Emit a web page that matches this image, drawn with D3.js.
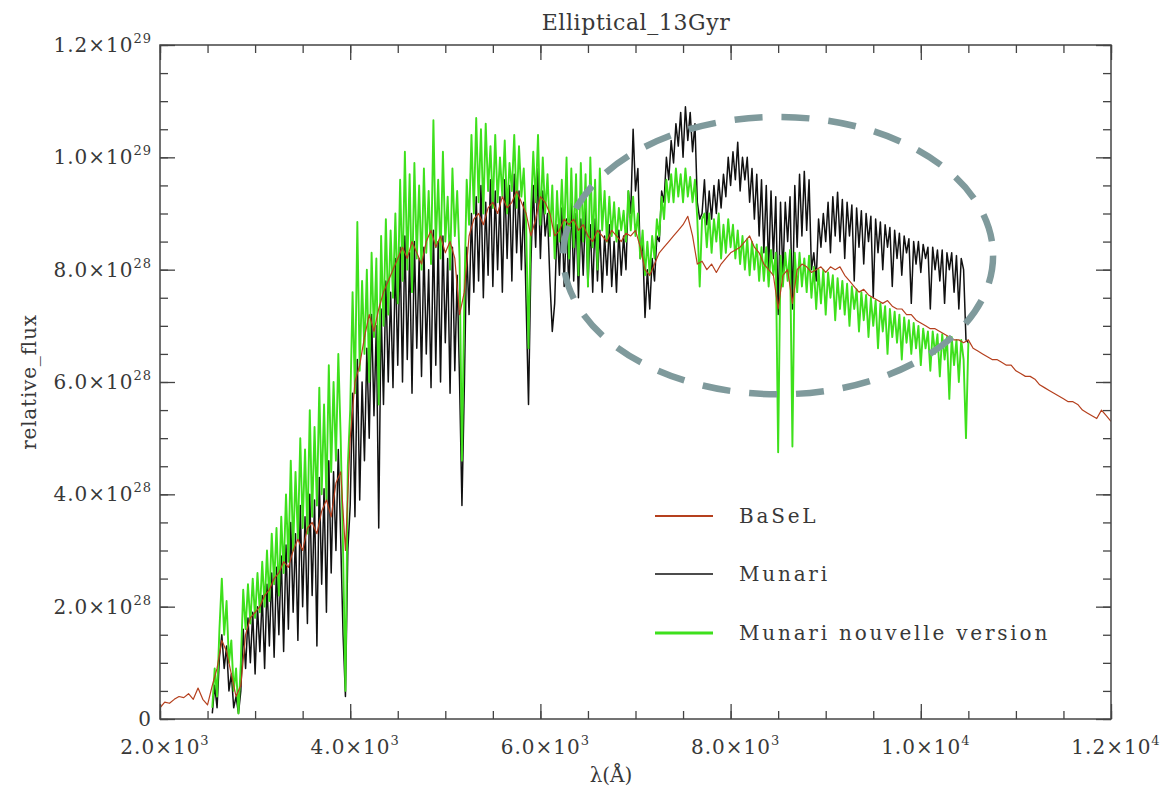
<!DOCTYPE html>
<html>
<head>
<meta charset="utf-8">
<script src="https://cdn.jsdelivr.net/npm/d3@7"></script>
<style>
  body { margin: 0; background: #fff; }
  svg text { font-family: "DejaVu Serif", serif; fill: #383838; }
</style>
</head>
<body>
<svg id="chart" width="1168" height="789"></svg>
<script>
// ---- Spectra (flux in units of 1e28) ----

// BaSeL library: 2000-12000 Å, every 50 Å
const BASEL_START = 2000, BASEL_STEP = 50;
const baselFlux = [
  0.20, 0.30, 0.28, 0.35, 0.40, 0.38, 0.45, 0.35, 0.55, 0.35,
  0.25, 0.60, 0.90, 1.40, 1.20, 0.80, 0.40, 0.60, 1.50, 1.80,
  1.90, 2.00, 2.20, 2.30, 2.50, 2.60, 2.80, 2.70, 3.00, 3.20,
  3.00, 3.40, 3.50, 3.30, 3.70, 3.90, 3.60, 4.20, 4.40, 3.00,
  5.00, 6.00, 6.30, 6.80, 7.20, 6.90, 7.30, 7.60, 7.80, 8.00,
  8.20, 8.40, 8.20, 8.50, 8.30, 8.10, 8.50, 8.70, 8.40, 8.60,
  8.30, 8.50, 8.20, 7.20, 7.60, 8.60, 8.90, 9.00, 8.80, 9.10,
  9.20, 9.00, 9.30, 9.10, 9.20, 9.40, 9.20, 9.00, 8.60, 8.90,
  9.30, 9.20, 9.00, 8.60, 8.70, 8.90, 8.80, 8.90, 8.70, 8.80,
  8.60, 8.50, 8.70, 8.60, 8.50, 8.70, 8.60, 8.50, 8.65, 8.60,
  8.70, 8.40, 8.00, 7.90, 8.10, 8.30, 8.40, 8.50, 8.60, 8.70,
  8.80, 8.95, 8.60, 8.10, 8.15, 8.00, 8.10, 7.95, 8.10, 8.20,
  8.30, 8.35, 8.40, 8.50, 8.60, 8.40, 8.30, 8.10, 8.00, 7.90,
  7.30, 7.90, 8.00, 7.40, 8.00, 8.10, 8.05, 7.95, 8.00, 8.05,
  7.95, 8.05, 8.00, 8.05, 7.90, 7.80, 7.70, 7.60, 7.65, 7.55,
  7.50, 7.45, 7.40, 7.45, 7.35, 7.30, 7.30, 7.20, 7.20, 7.10,
  7.05, 7.00, 6.95, 6.95, 6.90, 6.85, 6.80, 6.75, 6.75, 6.70,
  6.75, 6.60, 6.55, 6.50, 6.45, 6.40, 6.40, 6.35, 6.30, 6.30,
  6.20, 6.15, 6.10, 6.10, 6.05, 5.95, 5.90, 5.85, 5.80, 5.75,
  5.70, 5.65, 5.65, 5.60, 5.50, 5.45, 5.40, 5.35, 5.50, 5.40,
  5.30
];

// Munari library (original and new version): 2550-10500 Å, every 25 Å
const MUNARI_START = 2550, MUNARI_STEP = 25;
const munariFlux = [
  0.1, 0.6, 0.2, 1.1, 1.5, 0.9, 1.3, 0.5,
  0.8, 0.2, 0.4, 0.1, 0.5, 1.6, 0.9, 1.8,
  1.0, 1.9, 0.8, 2.0, 1.2, 2.2, 0.9, 2.4,
  1.3, 2.6, 1.1, 2.7, 1.5, 2.9, 1.2, 3.1,
  1.6, 3.5, 1.9, 3.3, 1.4, 3.8, 2.0, 3.6,
  1.7, 4.0, 2.2, 3.9, 1.3, 4.3, 2.4, 4.1,
  1.9, 4.6, 2.6, 4.4, 3.0, 4.8, 3.2, 1.5,
  0.4, 3.0, 3.8, 5.8, 3.6, 6.4, 3.9, 6.0,
  4.6, 6.6, 5.0, 7.2, 5.4, 7.0, 3.4, 7.3,
  5.6, 7.8, 6.0, 7.6, 5.9, 8.2, 6.3, 8.4,
  6.0, 8.6, 6.4, 8.3, 5.8, 8.5, 6.6, 8.2,
  6.1, 8.4, 6.5, 8.0, 5.9, 8.7, 6.3, 8.5,
  6.0, 8.6, 6.7, 8.2, 5.8, 8.4, 6.2, 7.9,
  6.0, 3.8, 5.9, 8.4, 7.2, 9.0, 7.6, 9.3,
  7.8, 9.5, 7.5, 9.2, 7.9, 9.6, 7.7, 9.4,
  8.0, 9.3, 7.6, 9.6, 8.2, 9.5, 7.8, 9.7,
  8.3, 9.4, 8.0, 9.2, 7.4, 5.6, 8.1, 9.5,
  8.4, 9.8, 8.2, 9.4, 8.6, 9.0, 7.8, 6.9,
  7.4, 8.8, 7.9, 9.1, 7.7, 8.9, 7.6, 9.2,
  7.8, 9.0, 7.5, 8.9, 7.9, 9.1, 7.7, 8.8,
  7.6, 8.9, 7.8, 8.7, 7.6, 8.6, 7.9, 8.8,
  7.7, 8.5, 7.6, 8.7, 7.9, 8.6, 8.0, 9.4,
  9.0, 10.5, 9.4, 9.8, 8.2, 8.5, 7.15, 8.0,
  7.3, 8.2, 7.8, 8.6, 8.5, 9.4, 9.2, 10.0,
  9.6, 10.3, 9.9, 10.6, 10.2, 10.8, 10.0, 10.9,
  10.3, 10.8, 10.1, 10.6, 9.2, 8.9, 9.0, 9.6,
  8.8, 9.4, 8.9, 9.5, 9.0, 9.6, 9.1, 9.7,
  9.3, 10.0, 9.5, 10.1, 9.6, 10.27, 9.4, 10.0,
  9.6, 10.0, 9.2, 9.8, 8.9, 9.7, 8.6, 9.6,
  8.3, 9.5, 8.0, 9.4, 8.2, 9.3, 7.2, 9.2,
  7.9, 9.2, 8.5, 9.3, 7.3, 9.5, 8.4, 9.7,
  8.6, 9.75, 8.7, 9.6, 8.0, 8.3, 7.8, 8.9,
  8.4, 9.0, 8.5, 9.2, 8.3, 9.3, 8.6, 9.38,
  8.5, 9.25, 8.2, 9.2, 8.6, 9.15, 7.8, 9.1,
  8.4, 9.05, 8.1, 9.0, 8.5, 8.95, 7.5, 8.9,
  8.3, 8.85, 8.0, 8.8, 8.4, 8.75, 7.7, 8.7,
  8.2, 8.65, 7.9, 8.6, 8.3, 8.55, 7.4, 8.5,
  8.1, 8.5, 7.95, 8.45, 8.2, 8.4, 7.3, 8.4,
  8.0, 8.35, 7.8, 8.35, 7.4, 8.3, 8.0, 8.3,
  7.6, 8.25, 7.3, 8.2, 8.0, 6.75, 6.7
];
const munariNewFlux = [
  0.2, 0.9, 0.4, 1.6, 2.5, 1.5, 2.1, 1.0,
  1.4, 0.5, 0.9, 0.1, 1.0, 2.3, 1.6, 2.4,
  1.7, 2.5, 1.8, 2.6, 1.9, 2.8, 2.0, 3.0,
  2.1, 3.3, 2.4, 3.4, 2.2, 3.6, 2.6, 4.0,
  2.8, 4.6, 3.0, 4.4, 3.2, 5.0, 3.4, 4.8,
  3.3, 5.5, 3.6, 5.2, 3.8, 5.9, 4.0, 5.6,
  3.9, 6.3, 4.4, 6.0, 4.6, 6.5, 5.0, 3.0,
  0.5, 4.5, 5.5, 7.6, 5.8, 8.85, 6.2, 7.8,
  6.5, 8.0, 6.0, 8.3, 6.8, 8.2, 5.6, 8.6,
  7.0, 8.9, 7.2, 8.7, 7.5, 9.0, 7.4, 9.6,
  7.8, 10.1, 8.0, 9.7, 7.6, 9.9, 8.2, 9.5,
  8.0, 9.8, 8.3, 9.4, 8.1, 10.66, 8.4, 9.6,
  8.2, 10.1, 8.5, 9.3, 8.0, 9.8, 8.6, 9.4,
  8.2, 4.6, 7.5, 9.6, 8.8, 10.4, 9.0, 10.7,
  9.2, 10.5, 9.0, 10.6, 9.4, 10.2, 9.1, 10.4,
  9.2, 10.0, 9.3, 10.3, 9.0, 9.9, 9.4, 10.4,
  9.1, 10.2, 9.3, 9.8, 8.8, 6.6, 9.0, 10.1,
  9.2, 10.4, 8.8, 10.0, 9.0, 9.7, 8.6, 9.5,
  8.2, 9.4, 8.5, 9.6, 8.6, 10.0, 8.2, 9.8,
  8.4, 9.7, 7.9, 9.9, 8.5, 9.7, 7.7, 10.0,
  8.4, 9.6, 8.0, 9.8, 8.7, 9.4, 8.5, 9.3,
  8.6, 9.2, 8.5, 9.1, 8.7, 9.05, 8.5, 9.4,
  8.7, 9.3, 8.6, 9.0, 8.2, 8.7, 7.9, 8.5,
  7.9, 8.6, 8.2, 8.9, 8.6, 9.3, 8.9, 9.6,
  9.2, 9.7, 9.2, 9.8, 9.3, 9.7, 9.2, 9.8,
  9.3, 9.65, 9.2, 9.6, 8.9, 7.7, 8.9, 9.0,
  8.4, 9.0, 8.3, 8.9, 8.5, 9.0, 8.2, 8.8,
  8.3, 8.9, 8.4, 8.8, 8.2, 8.7, 8.1, 8.6,
  8.0, 8.55, 7.9, 8.5, 8.0, 8.45, 7.8, 8.4,
  7.8, 8.4, 7.7, 8.35, 7.9, 8.3, 4.75, 8.25,
  7.7, 8.3, 7.8, 8.35, 4.85, 8.3, 7.6, 8.3,
  7.7, 8.2, 7.6, 8.25, 7.5, 8.05, 7.3, 8.0,
  7.4, 8.0, 7.2, 7.95, 7.5, 7.9, 7.1, 7.85,
  7.3, 7.8, 7.2, 7.75, 7.0, 7.7, 7.3, 7.65,
  6.9, 7.6, 7.1, 7.55, 6.8, 7.5, 7.0, 7.45,
  6.6, 7.4, 6.9, 7.35, 6.5, 7.3, 6.8, 7.25,
  6.7, 7.2, 6.4, 7.15, 6.7, 7.1, 6.5, 7.05,
  6.6, 7.0, 6.3, 6.95, 6.6, 6.9, 6.2, 6.9,
  6.5, 6.85, 6.1, 6.85, 6.4, 6.8, 5.7, 6.8,
  6.3, 6.75, 6.0, 6.75, 6.4, 5.0, 6.7
];

// ---- Axes ----
const xDomain = [2000, 12000];
const yDomain = [0, 12];
const xMajor = [2000, 4000, 6000, 8000, 10000, 12000];
const xTickMantissa = ["2.0", "4.0", "6.0", "8.0", "1.0", "1.2"];
const xTickExponent = ["3", "3", "3", "3", "4", "4"];
const yMajor = [0, 2, 4, 6, 8, 10, 12];
const yTickMantissa = ["0", "2.0", "4.0", "6.0", "8.0", "1.0", "1.2"];
const yTickExponent = ["", "28", "28", "28", "28", "29", "29"];
const xMinor = d3.range(2000, 12001, 500);
const yMinor = d3.range(0, 12.01, 0.5);

// Highlighted region (wavelength, flux centre and half-extents)
const regionCenter = [8500, 8.25];
const regionHalf = [2260, 2.47];

const seriesNames = ["BaSeL", "Munari", "Munari nouvelle version"];
const seriesColors = ["#b5401e", "#111111", "#3ee01c"];

// ---- Build ----
const svg = d3.select("#chart");
const L = 160, R = 1111, T = 45, B = 719;
const x = d3.scaleLinear().domain(xDomain).range([L, R]);
const y = d3.scaleLinear().domain(yDomain).range([B, T]);

const toPoints = (start, step, arr) => arr.map((v, i) => [start + i * step, v]);
const basel = toPoints(BASEL_START, BASEL_STEP, baselFlux);
const munari = toPoints(MUNARI_START, MUNARI_STEP, munariFlux);
const munariNew = toPoints(MUNARI_START, MUNARI_STEP, munariNewFlux);

svg.append("defs").append("clipPath").attr("id", "plotClip")
  .append("rect").attr("x", L).attr("y", T).attr("width", R - L).attr("height", B - T);

const line = d3.line().x(d => x(d[0])).y(d => y(d[1]));
const plot = svg.append("g").attr("clip-path", "url(#plotClip)");

plot.append("path").datum(munari).attr("d", line)
  .attr("fill", "none").attr("stroke", seriesColors[1]).attr("stroke-width", 1.5)
  .attr("stroke-linejoin", "round");
plot.append("path").datum(munariNew).attr("d", line)
  .attr("fill", "none").attr("stroke", seriesColors[2]).attr("stroke-width", 1.9)
  .attr("stroke-linejoin", "round");
plot.append("path").datum(basel).attr("d", line)
  .attr("fill", "none").attr("stroke", seriesColors[0]).attr("stroke-width", 1.2)
  .attr("stroke-linejoin", "round");

// Dashed ellipse around the red part of the spectrum
svg.append("ellipse")
  .attr("cx", x(regionCenter[0]))
  .attr("cy", y(regionCenter[1]))
  .attr("rx", x(regionCenter[0] + regionHalf[0]) - x(regionCenter[0]))
  .attr("ry", y(regionCenter[1] - regionHalf[1]) - y(regionCenter[1]))
  .attr("fill", "none").attr("stroke", "#7f9a9c").attr("stroke-width", 6.5)
  .attr("stroke-dasharray", "28 19");

// Frame and ticks on all four sides
const MAJ = 15, MIN = 8;
function ticks(axisFn, pos, scale, values, size) {
  const g = svg.append("g").attr("transform", pos)
    .call(axisFn(scale).tickValues(values).tickSize(-size).tickFormat(""));
  g.select(".domain").remove();
  g.selectAll(".tick line").attr("stroke", "#444").attr("stroke-width", 1.3);
}
ticks(d3.axisBottom, `translate(0,${B})`, x, xMajor, MAJ);
ticks(d3.axisBottom, `translate(0,${B})`, x, xMinor, MIN);
ticks(d3.axisTop, `translate(0,${T})`, x, xMajor, MAJ);
ticks(d3.axisTop, `translate(0,${T})`, x, xMinor, MIN);
ticks(d3.axisLeft, `translate(${L},0)`, y, yMajor, MAJ);
ticks(d3.axisLeft, `translate(${L},0)`, y, yMinor, MIN);
ticks(d3.axisRight, `translate(${R},0)`, y, yMajor, MAJ);
ticks(d3.axisRight, `translate(${R},0)`, y, yMinor, MIN);

svg.append("rect").attr("x", L).attr("y", T).attr("width", R - L).attr("height", B - T)
  .attr("fill", "none").attr("stroke", "#444").attr("stroke-width", 1.5);

// Tick labels with powers of ten
function sciLabel(sel, mant, exp) {
  sel.append("tspan").text(mant + (exp ? "\u00d710" : ""));
  if (exp) sel.append("tspan").attr("dy", -9).attr("font-size", 13).text(exp);
}
yMajor.forEach((v, i) => {
  const t = svg.append("text").attr("x", 152).attr("y", y(v) + 7)
    .attr("text-anchor", "end").attr("font-size", 20).attr("letter-spacing", 1);
  sciLabel(t, yTickMantissa[i], yTickExponent[i]);
});
xMajor.forEach((v, i) => {
  const t = svg.append("text").attr("x", x(v) + 5).attr("y", 754)
    .attr("text-anchor", "middle").attr("font-size", 20).attr("letter-spacing", 1);
  sciLabel(t, xTickMantissa[i], xTickExponent[i]);
});

// Titles
svg.append("text").attr("x", 636).attr("y", 30).attr("text-anchor", "middle")
  .attr("font-size", 22).attr("letter-spacing", 0.6).text("Elliptical_13Gyr");
svg.append("text").attr("x", 611).attr("y", 782).attr("text-anchor", "middle")
  .attr("font-size", 20).text("\u03bb(\u00c5)");
svg.append("text").attr("transform", "translate(36,382) rotate(-90)")
  .attr("text-anchor", "middle").attr("font-size", 20).attr("letter-spacing", 0.8)
  .text("relative_flux");

// Legend
const legendY = [516, 574, 633];
const legendWidth = [2, 1.5, 3];
seriesNames.forEach((name, i) => {
  svg.append("line").attr("x1", 655).attr("x2", 713)
    .attr("y1", legendY[i]).attr("y2", legendY[i])
    .attr("stroke", seriesColors[i]).attr("stroke-width", legendWidth[i]);
  svg.append("text").attr("x", 739).attr("y", legendY[i] + 7)
    .attr("font-size", 20).attr("letter-spacing", 2.8).text(name);
});
</script>
</body>
</html>
